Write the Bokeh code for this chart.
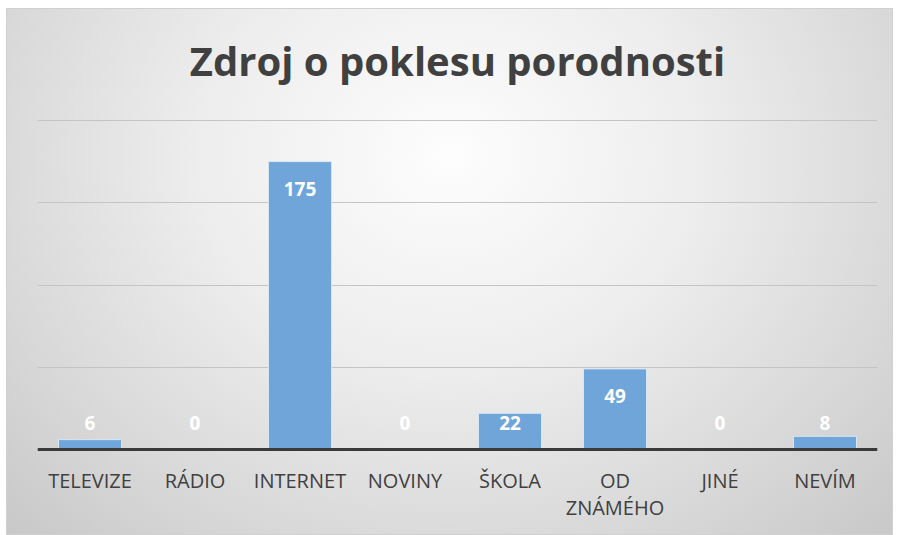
from bokeh.plotting import figure
from bokeh.models import ColumnDataSource, FixedTicker, LabelSet, Label, Span
from bokeh.core.properties import value
from bokeh.embed import file_html
from bokeh.resources import INLINE

categories = ["TELEVIZE", "RÁDIO", "INTERNET", "NOVINY", "ŠKOLA", "OD ZNÁMÉHO", "JINÉ", "NEVÍM"]
values = [6, 0, 175, 0, 22, 49, 0, 8]
grid_ticks = [0, 50, 100, 150, 200]
title_text = "Zdroj o poklesu porodnosti"
tick_line1 = ["TELEVIZE", "RÁDIO", "INTERNET", "NOVINY", "ŠKOLA", "OD", "JINÉ", "NEVÍM"]
tick_line2 = ["", "", "", "", "", "ZNÁMÉHO", "", ""]

# layout constants (pixels)
PX_PER_UNIT = 329 / 200.0
TOP_PX = 112      # space above the 200 grid line
BOTTOM_PX = 86    # space below the baseline
TITLE_PX = 60     # title centre above the 200 grid line

label_y = [max(v - 16.4, 16.4) for v in values]
source = ColumnDataSource(dict(cat=categories, val=values, ly=label_y,
                               txt=[str(v) for v in values],
                               t1=tick_line1, t2=tick_line2,
                               zero=[0] * len(categories)))

p = figure(x_range=categories,
           y_range=(-BOTTOM_PX / PX_PER_UNIT, max(grid_ticks) + TOP_PX / PX_PER_UNIT),
           width=887, height=527,
           output_backend="svg", toolbar_location=None,
           min_border_left=31, min_border_right=16, min_border_top=0,
           min_border_bottom=0)
p.margin = (8, 0, 0, 6)
p.x_range.range_padding = 0

p.styles = {"background": "radial-gradient(ellipse at 50% 28%, #fdfdfd 0%, #ededed 40%, #d6d6d6 78%, #c8c8c8 100%)",
            "box-shadow": "inset 0 0 0 1px #d0d0d0"}
p.background_fill_color = None
p.border_fill_color = None
p.outline_line_color = None

title = Label(x=len(categories) / 2, y=max(grid_ticks) + TITLE_PX / PX_PER_UNIT,
              text=title_text, text_align="center", text_baseline="middle",
              text_font="Open Sans", text_font_style="bold",
              text_font_size="40px", text_color="#404040")
p.add_layout(title)

p.vbar(x="cat", top="val", width=0.6, source=source,
       fill_color="#6fa5d9", line_color="#d6e6f5", line_width=1)

baseline = Span(location=0, dimension="width", line_color="#3a3a3a", line_width=3)
p.add_layout(baseline)

labels = LabelSet(x="cat", y="ly", text="txt", source=source,
                  text_align="center", text_baseline="middle",
                  text_color="white", text_font=value("Open Sans"),
                  text_font_style="bold", text_font_size="19px")
p.add_layout(labels)

for field, off in (("t1", -31), ("t2", -58)):
    p.add_layout(LabelSet(x="cat", y="zero", text=field, source=source, y_offset=off,
                          text_align="center", text_baseline="middle",
                          text_color="#404040", text_font=value("Open Sans"),
                          text_font_size="20px"))

p.xaxis.visible = False
p.yaxis.visible = False
p.ygrid.ticker = FixedTicker(ticks=grid_ticks)
p.ygrid.grid_line_color = "#c4c4c4"
p.ygrid.grid_line_width = 1
p.xgrid.visible = False

open("out.html", "w").write(file_html(p, INLINE))
